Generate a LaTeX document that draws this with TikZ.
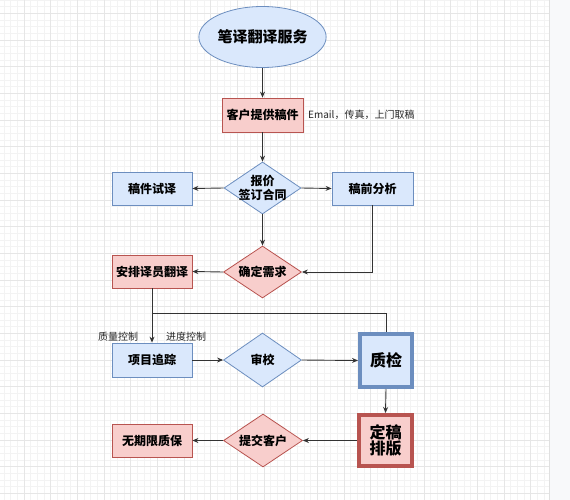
\documentclass[tikz,border=0pt]{standalone}
\usepackage{fontspec}
\setmainfont{Noto Sans CJK SC}
\newfontfamily\cjk{Noto Sans CJK SC}
\usetikzlibrary{shapes.geometric,arrows.meta}
\definecolor{bfill}{HTML}{DAE8FC}
\definecolor{bdraw}{HTML}{6C8EBF}
\definecolor{rfill}{HTML}{F8CECC}
\definecolor{rdraw}{HTML}{B85450}
\definecolor{lin}{HTML}{333333}
\definecolor{gminor}{HTML}{F3F3F3}
\definecolor{gmajor}{HTML}{E6E6E6}
\definecolor{panel}{HTML}{F8F9FA}
\tikzset{
  bx/.style={rectangle, draw=bdraw, fill=bfill, line width=0.8pt, minimum width=80pt, minimum height=33pt, inner sep=0pt, font=\cjk\bfseries\fontsize{12}{14}\selectfont},
  rbx/.style={bx, draw=rdraw, fill=rfill},
  dia/.style={diamond, draw=bdraw, fill=bfill, line width=0.8pt, inner sep=0pt, minimum width=78pt, minimum height=52pt},
  rdia/.style={dia, draw=rdraw, fill=rfill},
  dlab/.style={align=center, font=\cjk\bfseries\fontsize{12}{14}\selectfont, inner sep=0pt},
  big/.style={rectangle, line width=4pt, minimum width=52pt, minimum height=52pt, inner sep=0pt, align=center, font=\cjk\bfseries\fontsize{16}{17}\selectfont},
  conn/.style={draw=lin, line width=0.9pt, -{Stealth[length=6pt,width=5pt]}},
  plain/.style={draw=lin, line width=0.9pt},
  note/.style={font=\cjk\fontsize{10}{12}\selectfont, inner sep=0pt, text=black!85}
}
\begin{document}
\begin{tikzpicture}[x=1pt,y=-1pt]
\useasboundingbox (0,0) rectangle (570,500);
% background grid
\fill[white] (0,0) rectangle (549,500);
\foreach \i in {0,...,83} {
  \draw[gminor, line width=0.5pt] ({-2.667+6.6667*\i},0) -- ({-2.667+6.6667*\i},500);
}
\foreach \i in {0,...,77} {
  \draw[gminor, line width=0.5pt] (0,{-13.333+6.6667*\i}) -- (549,{-13.333+6.6667*\i});
}
\foreach \i in {0,...,21} {
  \draw[gmajor, line width=0.6pt] ({-2.667+26.6667*\i},0) -- ({-2.667+26.6667*\i},500);
}
\foreach \i in {0,...,19} {
  \draw[gmajor, line width=0.6pt] (0,{-13.333+26.6667*\i}) -- (549,{-13.333+26.6667*\i});
}
\fill[panel] (549,0) rectangle (570,500);
\draw[black!12, line width=0.6pt] (549,0) -- (549,500);

% nodes
\node[ellipse, draw=bdraw, fill=bfill, line width=0.8pt, minimum width=101pt, minimum height=61pt, inner sep=0pt, font=\cjk\bfseries\fontsize{15}{17}\selectfont] (start) at (262.5,37) {笔译翻译服务};
\node[rbx, minimum width=81pt, minimum height=34pt] (client) at (262.5,115) {客户提供稿件};
\node[note, anchor=west] (email) at (308,115) {Email，传真，上门取稿};
\node[dia, minimum width=77pt, label={[dlab]center:报价\\签订合同}] (quote) at (262.5,188) {};
\node[bx] (trial) at (152,188.5) {稿件试译};
\node[bx, minimum width=81pt] (analysis) at (372.5,188.5) {稿前分析};
\node[rdia, label={[dlab]center:确定需求}] (confirm) at (262.5,272) {};
\node[rbx] (assign) at (152,271.5) {安排译员翻译};
\node[bx, minimum height=34pt] (track) at (152,360) {项目追踪};
\node[dia, minimum height=54pt, label={[dlab]center:审校}] (review) at (262.5,360) {};
\node[big, draw=bdraw, fill=bfill, minimum height=53pt] (qc) at (386,360.5) {质检};
\node[big, draw=rdraw, fill=rfill, minimum width=53pt, minimum height=51pt, font=\cjk\bfseries\fontsize{16}{16}\selectfont] (layout) at (385.5,440.5) {定稿\\排版};
\node[rdia, minimum width=79pt, minimum height=53pt, label={[dlab]center:提交客户}] (submit) at (263,440.5) {};
\node[rbx] (warranty) at (152,440.5) {无期限质保};
\node[note] (qlab) at (118,336.5) {质量控制};
\node[note] (plab) at (186,336.5) {进度控制};
\coordinate (j) at (152,313);

% connectors
\draw[conn] (start.south) -- (client.north);
\draw[conn] (client.south) -- (quote.north);
\draw[conn] (quote.west) -- (trial.east);
\draw[conn] (quote.east) -- (analysis.west);
\draw[conn] (quote.south) -- (confirm.north);
\draw[conn] (analysis.south) |- (confirm.east);
\draw[conn] (confirm.west) -- (assign.east);
\draw[conn] (assign.south) -- (track.north);
\draw[plain] (j) -| (qc.north);
\draw[conn] (track.east) -- (review.west);
\draw[conn] (review.east) -- (qc.west);
\draw[conn] (qc.south) -- (layout.north);
\draw[conn] (layout.west) -- (submit.east);
\draw[conn] (submit.west) -- (warranty.east);
\end{tikzpicture}
\end{document}
